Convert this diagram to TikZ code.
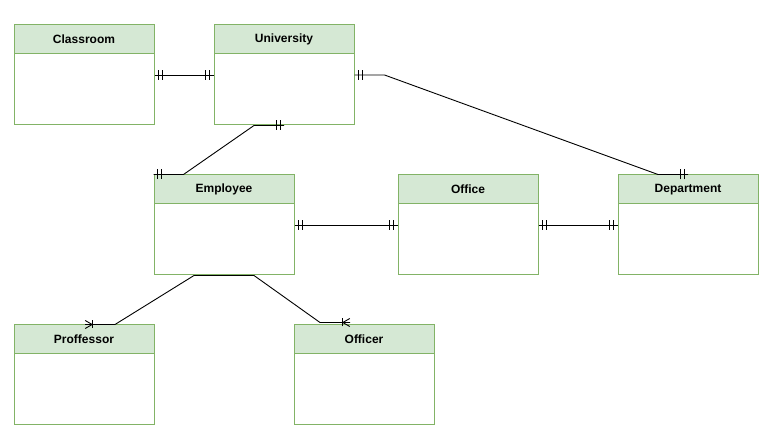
\documentclass[tikz,border=0pt]{standalone}
\usepackage{fontspec}
\setmainfont{Liberation Sans}
\usetikzlibrary{positioning, calc, decorations.markings}
\definecolor{headfill}{HTML}{D5E8D4}
\definecolor{boxline}{HTML}{82B366}

\begin{document}
\begin{tikzpicture}[
    x=1pt, y=-1pt,
    on grid,
    entity/.style={draw=boxline, fill=white, line width=1pt, minimum width=140pt, minimum height=100pt, inner sep=0pt},
    header/.style={draw=boxline, fill=headfill, line width=1pt, minimum width=140pt, minimum height=29pt, inner sep=0pt, font=\fontsize{12}{14}\selectfont\bfseries},
    rel/.style={draw=black, line width=0.9pt},
    one start/.style={postaction={decorate, decoration={markings,
        mark=at position 4pt with {\draw[line width=0.9pt] (0pt,-5pt) -- (0pt,5pt);},
        mark=at position 8pt with {\draw[line width=0.9pt] (0pt,-5pt) -- (0pt,5pt);}}}},
    one end/.style={postaction={decorate, decoration={markings,
        mark=at position -4pt with {\draw[line width=0.9pt] (0pt,-5pt) -- (0pt,5pt);},
        mark=at position -8pt with {\draw[line width=0.9pt] (0pt,-5pt) -- (0pt,5pt);}}}},
    many end/.style={postaction={decorate, decoration={markings,
        mark=at position -0.2pt with {\draw[line width=0.9pt] (0pt,-4pt) -- (-7pt,0pt) -- (0pt,4pt);
                                      \draw[line width=0.9pt] (-7pt,-4pt) -- (-7pt,4pt);}}}}
]
\useasboundingbox (0,0) rectangle (774,443);

% entities
\node[entity] (classroom) at (84,75) {};
\node[entity, right=200pt of classroom] (university) {};
\node[entity, below right=150pt and 140pt of classroom] (employee) {};
\node[entity, right=244pt of employee] (office) {};
\node[entity, right=220pt of office] (department) {};
\node[entity, below=300pt of classroom] (proffessor) {};
\node[entity, below right=150pt and 140pt of employee] (officer) {};

% titles
\node[header, anchor=north] (classroom-head) at (classroom.north) {Classroom};
\node[header, anchor=north] (university-head) at (university.north) {University};
\node[header, anchor=north] (employee-head) at (employee.north) {Employee};
\node[header, anchor=north] (office-head) at (office.north) {Office};
\node[header, anchor=north] (department-head) at (department.north) {Department};
\node[header, anchor=north] (proffessor-head) at (proffessor.north) {Proffessor};
\node[header, anchor=north] (officer-head) at (officer.north) {Officer};

% relations
\draw[rel, one start, one end] (classroom.east) -- (university.west);
\draw[rel, one start, one end] (university.east) -- ++(30,0)
    -- ([xshift=-30pt]department.north) -- (department.north);
\draw[rel, one start, one end] (university.south) -- ++(-30,0)
    -- ([xshift=30pt]employee.north west) -- (employee.north west);
\draw[rel, one start, one end] (employee.east) -- (office.west);
\draw[rel, one start, one end] (office.east) -- (department.west);
\draw[rel, many end] (employee.south) -- ++(-30,0)
    -- ([xshift=31pt]proffessor.north) -- ([xshift=1pt]proffessor.north);
\draw[rel, many end] (employee.south) -- ++(30,0)
    -- ([xshift=-44pt, yshift=2pt]officer.north) -- ([xshift=-14pt, yshift=2pt]officer.north);

\end{tikzpicture}
\end{document}
